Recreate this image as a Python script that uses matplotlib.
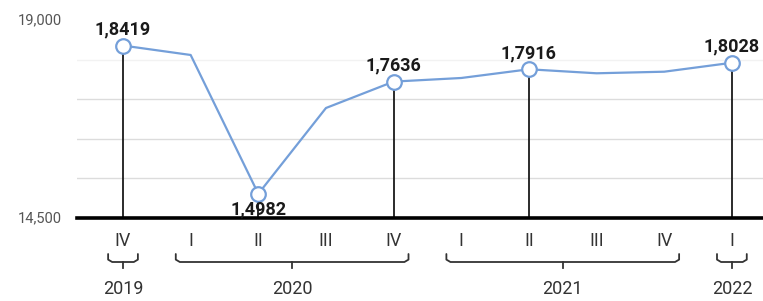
import matplotlib
matplotlib.use("Agg")
import matplotlib.pyplot as plt
from matplotlib.transforms import blended_transform_factory

quarters = ["IV", "I", "II", "III", "IV", "I", "II", "III", "IV", "I"]
values = [18419, 18205, 15050, 17000, 17600, 17682, 17880, 17789, 17825, 18028]
labeled = {0: "1,8419", 2: "1,4982", 4: "1,7636", 6: "1,7916", 9: "1,8028"}
years = ["2019", "2020", "2021", "2022"]
year_spans = [(0, 0), (1, 4), (5, 8), (9, 9)]
ytick_vals = [14500, 19000]
ytick_labels = ["14,500", "19,000"]
grid_vals = [15400, 16300, 17200, 18100]

FONT = "Roboto"
BLUE = "#749fd9"

fig = plt.figure(figsize=(7.63, 3.01), dpi=100)
ax = fig.add_axes([77 / 763, (301 - 218) / 301, (763 - 77) / 763, (218 - 20) / 301])
x = list(range(len(values)))
ax.set_xlim(-0.68, 9.46)
ax.set_ylim(14500, 19000)
for s in ax.spines.values():
    s.set_visible(False)
ax.set_xticks([])
ax.set_yticks([])

for g in grid_vals:
    ax.axhline(g, color="#dcdcdc", lw=1.0, zorder=0,
               alpha=0.35 if g == 18100 else 1.0)
ax.axhline(14500, color="black", lw=2.6, zorder=3, clip_on=False)

for i in labeled:
    ax.plot([i, i], [14500, values[i]], color="#1a1a1a", lw=1.3, zorder=2)

ax.plot(x, values, color=BLUE, lw=1.6, zorder=4)
ax.plot(list(labeled.keys()), [values[i] for i in labeled], "o", ms=10.5,
        mfc="white", mec=BLUE, mew=1.6, zorder=5)

for i, t in labeled.items():
    off = -11.5 if values[i] < 16000 else 11.5
    ax.annotate(t, (i, values[i]), xytext=(0, off), textcoords="offset points",
                ha="center", va="center", fontsize=13, fontweight="bold",
                family=FONT, color="#1a1a1a", zorder=6)

tr = blended_transform_factory(ax.transData, ax.transAxes)

def ay(py):
    return (218 - py) / 198

for i, q in enumerate(quarters):
    ax.text(i, ay(241), q, transform=tr, ha="center", va="center",
            fontsize=13, family=FONT, color="#333333")

for (a, b), yr in zip(year_spans, years):
    x0, x1 = a - 0.22, b + 0.22
    ytop, ybot, ytick = ay(254), ay(262), ay(268)
    r = 0.06
    xs = [x0, x0, x0 + r, x1 - r, x1, x1]
    ys = [ytop, ybot + (ytop - ybot) * 0.3, ybot, ybot, ybot + (ytop - ybot) * 0.3, ytop]
    ax.plot(xs, ys, transform=tr, color="#333333", lw=1.3, clip_on=False,
            solid_capstyle="round", solid_joinstyle="round")
    xm = (a + b) / 2
    ax.plot([xm, xm], [ybot, ytick], transform=tr, color="#333333", lw=1.3, clip_on=False)
    ax.text(xm, ay(289), yr, transform=tr, ha="center", va="center",
            fontsize=13, family=FONT, color="#333333")

for v, lab in zip(ytick_vals, ytick_labels):
    ax.text(62 / 763, (301 - (218 - (v - 14500) / 4500 * 198)) / 301, lab,
            transform=fig.transFigure, ha="right", va="center",
            fontsize=10.5, family=FONT, color="#555555")

fig.savefig("out.png", dpi=100)
